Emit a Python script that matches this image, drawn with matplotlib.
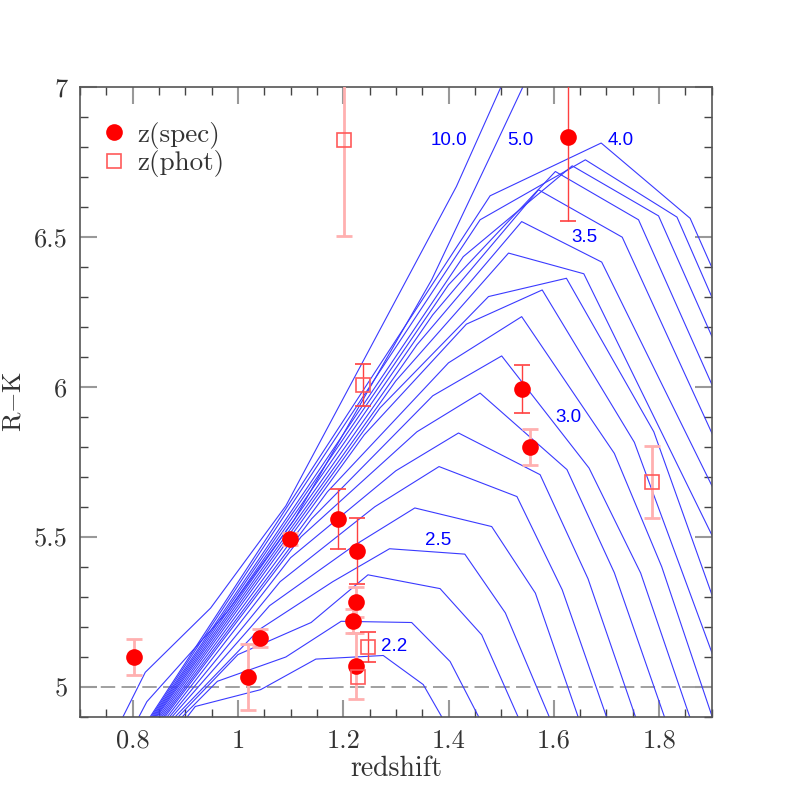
import numpy as np
import matplotlib
matplotlib.use('Agg')
import matplotlib.pyplot as plt
from matplotlib.ticker import MultipleLocator, FuncFormatter

# galaxies with spectroscopic redshifts
spec_z = [0.803, 1.020, 1.041, 1.099, 1.190, 1.227, 1.225, 1.219, 1.225, 1.539, 1.554, 1.627]
spec_rk = [5.10, 5.033, 5.163, 5.493, 5.56, 5.453, 5.281, 5.22, 5.07, 5.993, 5.80, 6.833]
spec_err = [0.06, 0.11, 0.03, 0.02, 0.10, 0.11, 0.05, 0.04, 0.11, 0.08, 0.06, 0.28]

# galaxies with photometric redshifts
phot_z = [1.202, 1.238, 1.787, 1.248, 1.228]
phot_rk = [6.823, 6.007, 5.683, 5.131, 5.031]
phot_err = [0.32, 0.07, 0.12, 0.05, 0.0]

# model tracks, one per formation redshift
track_zf = [2.2, 2.3, 2.4, 2.5, 2.6, 2.7, 2.8, 2.9, 3.0, 3.1,
            3.2, 3.3, 3.4, 3.5, 3.6, 3.7, 3.8, 3.9, 4.0, 5.0, 10.0]
track_z = [
    [0.895, 0.919, 1.043, 1.148, 1.276, 1.352, 1.400],
    [0.883, 0.961, 1.091, 1.196, 1.330, 1.403, 1.463],
    [0.876, 1.000, 1.139, 1.247, 1.384, 1.463, 1.537],
    [0.870, 1.040, 1.180, 1.288, 1.431, 1.508, 1.596],
    [0.865, 1.060, 1.220, 1.336, 1.482, 1.565, 1.650],
    [0.861, 1.080, 1.260, 1.382, 1.530, 1.616, 1.704],
    [0.857, 1.100, 1.300, 1.419, 1.574, 1.665, 1.759],
    [0.853, 1.120, 1.340, 1.460, 1.625, 1.715, 1.814],
    [0.850, 1.140, 1.370, 1.501, 1.667, 1.765, 1.862],
    [0.847, 1.170, 1.400, 1.539, 1.715, 1.805, 1.920],
    [0.844, 1.240, 1.434, 1.578, 1.753, 1.920],
    [0.841, 1.270, 1.476, 1.624, 1.790, 1.920],
    [0.838, 1.300, 1.514, 1.657, 1.920],
    [0.836, 1.340, 1.539, 1.691, 1.920],
    [0.834, 1.370, 1.571, 1.730, 1.920],
    [0.832, 1.400, 1.603, 1.761, 1.920],
    [0.830, 1.428, 1.635, 1.799, 1.920],
    [0.828, 1.460, 1.660, 1.834, 1.920],
    [0.826, 1.479, 1.690, 1.859, 1.920],
    [0.800, 0.827, 0.980, 1.107, 1.368, 1.485, 1.560],
    [0.776, 0.824, 0.948, 1.091, 1.415, 1.520],
]
track_rk = [
    [4.88, 4.934, 4.990, 5.092, 5.104, 5.007, 4.86],
    [4.88, 5.018, 5.099, 5.218, 5.214, 5.084, 4.88],
    [4.88, 5.107, 5.214, 5.373, 5.327, 5.173, 4.88],
    [4.88, 5.190, 5.350, 5.460, 5.442, 5.246, 4.88],
    [4.88, 5.270, 5.470, 5.596, 5.534, 5.312, 4.88],
    [4.88, 5.350, 5.600, 5.734, 5.634, 5.323, 4.88],
    [4.88, 5.430, 5.720, 5.846, 5.707, 5.360, 4.88],
    [4.88, 5.500, 5.850, 5.979, 5.724, 5.380, 4.88],
    [4.88, 5.560, 5.970, 6.103, 5.729, 5.379, 4.88],
    [4.88, 5.650, 6.080, 6.234, 5.778, 5.400, 4.80],
    [4.88, 5.840, 6.209, 6.323, 5.815, 5.020],
    [4.88, 5.930, 6.301, 6.362, 5.850, 5.210],
    [4.88, 6.020, 6.446, 6.377, 5.435],
    [4.88, 6.140, 6.551, 6.416, 5.600],
    [4.88, 6.240, 6.657, 6.499, 5.770],
    [4.88, 6.340, 6.718, 6.557, 5.930],
    [4.88, 6.434, 6.737, 6.570, 6.090],
    [4.88, 6.557, 6.757, 6.566, 6.220],
    [4.88, 6.637, 6.813, 6.562, 6.320],
    [4.86, 4.950, 5.250, 5.557, 6.357, 6.790, 7.070],
    [4.88, 5.048, 5.262, 5.603, 6.668, 7.080],
]

plt.rcParams['font.family'] = 'serif'
plt.rcParams['font.serif'] = ['cmr10', 'DejaVu Serif']
plt.rcParams['mathtext.fontset'] = 'cm'
plt.rcParams['axes.formatter.use_mathtext'] = True

grey = '#333333'
fig = plt.figure(figsize=(7.97, 7.97), dpi=100)
ax = fig.add_axes([0.1004, 0.1008, 0.7926, 0.7901])

for z, rk in zip(track_z, track_rk):
    ax.plot(z, rk, color='#3a3aff', lw=0.8, zorder=2)

# where the formation redshift is written next to a track
label_at = {10.0: (1.400, 6.82), 5.0: (1.536, 6.82), 4.0: (1.728, 6.82),
            3.5: (1.658, 6.497), 3.0: (1.627, 5.897), 2.5: (1.381, 5.487),
            2.2: (1.297, 5.133)}
for zf in track_zf:
    if zf in label_at:
        x, y = label_at[zf]
        ax.text(x, y, '%.1f' % zf, color='blue', fontsize=13.5,
                family='Liberation Sans', ha='center', va='center', zorder=3)

ax.axhline(5.0, color='#999999', ls=(0, (8, 3.5)), lw=1.3, zorder=1)

# firm error bars drawn darker, the rest pale
spec_dark = [4, 5, 9, 11]
phot_dark = [1, 3]
for i in range(len(spec_z)):
    dark = i in spec_dark
    ax.errorbar(spec_z[i], spec_rk[i], yerr=spec_err[i], fmt='none',
                ecolor='#ff4040' if dark else '#ffb0b0', elinewidth=1.0 if dark else 2.0,
                capsize=6, capthick=1.2 if dark else 2.0, zorder=3)
for i in range(len(phot_z)):
    if phot_err[i] == 0:
        continue
    dark = i in phot_dark
    ax.errorbar(phot_z[i], phot_rk[i], yerr=phot_err[i], fmt='none',
                ecolor='#ff4040' if dark else '#ffb0b0', elinewidth=1.0 if dark else 2.0,
                capsize=6, capthick=1.2 if dark else 2.0, zorder=3)

ax.plot(spec_z, spec_rk, 'o', color='red', ms=12, mec='none', zorder=5, label='z(spec)')
ax.plot(phot_z, phot_rk, 's', mfc='none', mec='#ff5a5a', mew=1.2, ms=9.5, zorder=5,
        label='z(phot)')

ax.set_xlim(0.7, 1.9)
ax.set_ylim(4.9, 7.0)
ax.xaxis.set_major_locator(MultipleLocator(0.2))
ax.xaxis.set_minor_locator(MultipleLocator(0.05))
ax.yaxis.set_major_locator(MultipleLocator(0.5))
ax.yaxis.set_minor_locator(MultipleLocator(0.1))
fmt = FuncFormatter(lambda v, p: '%g' % round(v, 2))
ax.xaxis.set_major_formatter(fmt)
ax.yaxis.set_major_formatter(fmt)
ax.tick_params(which='both', direction='in', top=True, right=True,
               labelsize=19, labelcolor=grey)
ax.tick_params(which='major', length=12, width=1.5, color='#999999', pad=9)
ax.tick_params(which='minor', length=6, width=1.0, color='#444444')
for s in ax.spines.values():
    s.set_color('#555555')
    s.set_linewidth(1.2)

ax.set_xlabel('redshift', fontsize=20, color=grey, labelpad=2)
ax.set_ylabel(r'R$-$K', fontsize=19, color=grey, labelpad=6)

ax.legend(loc='upper left', bbox_to_anchor=(0.02, 0.962), frameon=False, fontsize=19.5,
          handlelength=0.8, handletextpad=0.45, labelspacing=0.05, borderaxespad=0,
          labelcolor=grey)

plt.savefig('out.png', dpi=100)
